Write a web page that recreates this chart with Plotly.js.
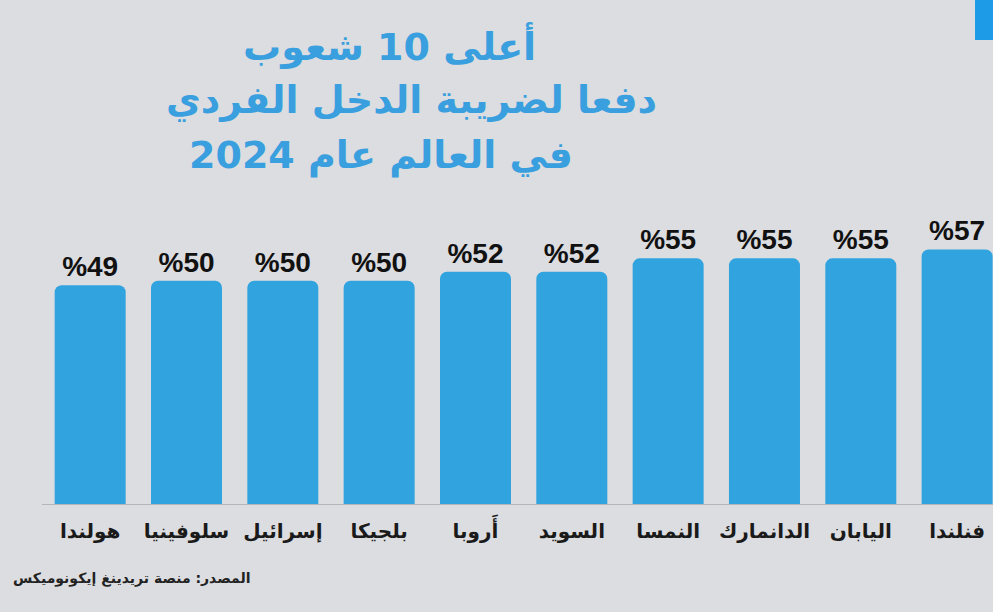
<!DOCTYPE html>
<html>
<head>
<meta charset="utf-8">
<script src="https://cdn.plot.ly/plotly-3.0.1.min.js"></script>
<style>
html,body{margin:0;padding:0;background:#dcdde0;}
#chart{width:993px;height:612px;}
</style>
</head>
<body>
<div id="chart"></div>
<script>
const countries = ["هولندا","سلوفينيا","إسرائيل","بلجيكا","أَروبا","السويد","النمسا","الدانمارك","اليابان","فنلندا"];
const taxRates = [49,50,50,50,52,52,55,55,55,57];
const valueLabels = taxRates.map(v => "%" + v);
const titleLines = ["أعلى 10 شعوب","دفعا لضريبة الدخل الفردي","في العالم عام 2024"];
const sourceText = "المصدر: منصة تريدينغ إيكونوميكس";

const L = 42, T = 236, B = 108, W = 993, H = 612;
const plotW = W - L, plotH = H - T - B;
const px = x => (x - L) / plotW;
const py = y => (H - B - y) / plotH;

const titleFont = {family: "DejaVu Sans, Noto Sans", size: 38, color: "#3a9fde", weight: 700};
const titlePos = [[389, 45], [411, 100], [381, 155]];

const annotations = titleLines.map((t, i) => ({
  text: "<b>" + t + "</b>", xref: "paper", yref: "paper",
  x: px(titlePos[i][0]), y: py(titlePos[i][1]),
  xanchor: "center", yanchor: "middle", showarrow: false, font: titleFont
}));
annotations.push({
  text: "<b>" + sourceText + "</b>", xref: "paper", yref: "paper",
  x: px(252), y: py(578), xanchor: "right", yanchor: "middle", showarrow: false,
  font: {family: "DejaVu Sans, Noto Sans", size: 14, color: "#222"}
});

const trace = {
  type: "bar",
  x: countries,
  y: taxRates,
  text: valueLabels,
  textposition: "outside",
  cliponaxis: false,
  textfont: {family: "Liberation Sans, Arial, sans-serif", size: 28, color: "#111", weight: 700},
  marker: {color: "#31a3de", line: {width: 0}, cornerradius: 7},
  hoverinfo: "skip"
};

const layout = {
  width: W, height: H,
  margin: {l: L, r: 0, t: T, b: B, pad: 0},
  paper_bgcolor: "#dcdde0",
  plot_bgcolor: "rgba(0,0,0,0)",
  bargap: 0.263,
  showlegend: false,
  xaxis: {
    type: "category",
    range: [-0.5, -0.5 + plotW / 96.33],
    showgrid: false, zeroline: false,
    showline: true, linecolor: "#b5b6b8", linewidth: 1,
    ticks: "", ticklabelstandoff: 9,
    tickfont: {family: "DejaVu Sans, Noto Sans", size: 20, color: "#1a1a1a", weight: 700},
    fixedrange: true
  },
  yaxis: {
    range: [0, 60], visible: false, showgrid: false, zeroline: false, fixedrange: true
  },
  shapes: [{
    type: "rect", xref: "paper", yref: "paper",
    x0: px(975), x1: px(995), y0: py(40), y1: py(0),
    fillcolor: "#1e9be6", line: {width: 0}
  }],
  annotations: annotations
};

Plotly.newPlot("chart", [trace], layout, {displayModeBar: false, staticPlot: true});
</script>
</body>
</html>
